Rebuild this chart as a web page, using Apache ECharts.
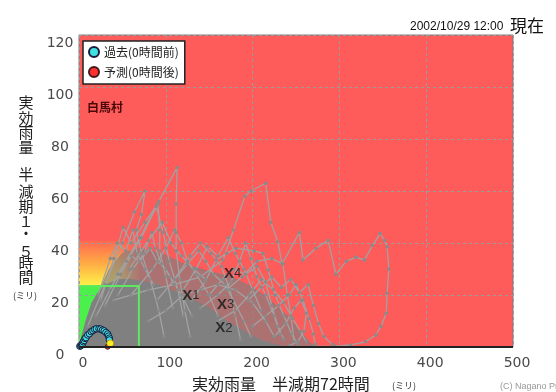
<!DOCTYPE html>
<html>
<head>
<meta charset="utf-8">
<script src="https://cdn.jsdelivr.net/npm/echarts@6/dist/echarts.min.js"></script>
<style>
  html, body { margin: 0; padding: 0; background: #fff; }
  #chart { width: 556px; height: 392px; }
</style>
</head>
<body>
<div id="chart"></div>
<script>
// zones (mm)
const greenZone = [[0, 0], [69, 23.5]];
const cautionZone = [[0, 23.5], [70, 41]];
const fadeZone = [[45, 23.5], [72, 41]];
const greenOutline = [[0, 23.5], [69, 23.5], [69, 0]];
const baseLine = [[0, 0], [500, 0]];

// cloud of past rainfall traces
const denseCloud = [[0,0],[8,10],[15,17],[22,21],[32,24],[45,26],[60,26],[75,25],[90,24],[105,22],[120,20],[135,17.5],[150,15],[165,11],[180,8],[195,5],[210,2.5],[225,1],[238,0]];
const sparseCloud = [[0,0],[20,19],[35,30],[50,36],[70,38],[95,36],[120,32],[150,29],[175,27],[200,23],[220,18],[240,12],[255,6],[265,2],[272,0]];

// individual past events (snake lines)
const eventA = [[40,18],[80,22],[110,24],[140,27],[166,33.5],[178,45],[191,58],[198,60],[215,63],[221,48],[229,40.5],[234,32],[254,44],[258,33.5],[273,38],[287,41],[296,28],[308,33],[319,34.5],[329,33.5],[338,39],[347,43.7],[352,41],[355,38.6],[357,30],[355,20.7],[354,13],[348,8],[342,4.6],[330,2],[313,0.8],[295,0.3],[270,0.2]];
const eventB = [[20,12],[45,28],[70,42],[92,56],[113,69],[112,55],[112,44],[112,37],[116,26],[122,14],[128,4]];
const eventC = [[10,8],[30,24],[50,40],[64,52],[76,60],[72,51],[66,45],[72,36],[82,26],[92,14],[98,4]];
const eventD = [[25,18],[40,34],[51,46],[60,40],[76,48],[91,55],[93,45],[93,37],[100,27],[108,15]];
const eventE = [[35,22],[55,33],[72,42],[89,54],[97,44],[104,33],[114,22],[120,12]];
const eventF = [[130,18],[145,25],[158,33.5],[170,36],[181,38],[202,37],[212,36],[218,29.6],[226,20],[236,12],[245,5],[252,1]];
const eventG = [[150,20],[165,26],[178,30],[192,28],[205,31],[215,25],[222,16],[229,8],[236,3]];
const eventH = [[225,4],[238,9],[248,15],[256,18],[262,13],[259,6],[252,2],[242,0.5]];
const eventI = [[170,22],[188,27],[205,33],[222,34],[235,32],[240,20],[244,12],[248,2]];
const eventJ = [[110,26],[128,35],[140,40],[152,36],[164,31],[174,22],[180,12],[186,3]];
const eventK = [[195,18],[210,23],[222,27],[233,23],[244,26],[254,21],[264,24],[270,16],[276,9],[282,4],[292,1]];
const eventL = [[22,20],[36,34],[44,40],[54,37],[62,45],[67,36],[76,30],[86,24]];
const eventM = [[58,30],[80,41],[96,48],[106,40],[118,35],[132,30],[146,26]];
const eventN = [[120,22],[135,30],[148,38.6],[160,35],[172,42],[180,36],[190,30],[200,22],[210,14]];
const eventO = [[60,20],[85,30],[100,38],[110,45],[118,40],[125,33],[135,28],[150,20],[160,12]];
const eventP = [[90,18],[110,26],[125,32],[138,37],[146,33],[155,28],[168,24],[178,18],[190,10],[198,4]];
const eventQ = [[140,15],[160,20],[175,25],[185,33],[192,40],[198,34],[205,27],[215,20],[225,12],[232,5]];
const eventR = [[160,10],[180,14],[196,20],[210,26],[224,22],[236,17],[246,11],[255,6],[262,2]];
const eventS = [[200,8],[215,12],[230,16],[242,20],[250,24],[258,18],[265,11],[270,5],[272,1]];
const eventT = [[80,10],[100,14],[120,20],[140,22],[160,24],[180,22],[200,17],[215,10],[225,4]];
const eventU = [[30,16],[48,28],[60,35],[70,33],[82,38],[90,33],[100,30],[110,24]];
const eventV = [[45,20],[62,30],[75,36],[84,44],[88,38],[95,32],[105,27],[118,20],[130,12]];
const events = [eventA, eventB, eventC, eventD, eventE, eventF, eventG, eventH, eventI, eventJ, eventK,
  eventL, eventM, eventN, eventO, eventP, eventQ, eventR, eventS, eventT, eventU, eventV];

// current event
const pastPoints = [[1,0.3],[2,0.5],[3,0.8],[4,1.2],[5,2],[6,2.5],[7,3.3],[8,3.6],[10,4.6],[12,5.1],[14,5.9],[16,6.3],[18,6.8],[20,7],[23,7],[25,6.9],[27,6.5],[29,6.2],[31,5.6],[33,5],[34,4.2],[35,3.4],[35,2.7]];
const nowPoint = [[36,1.4]];
const forecastPoints = [[33,0.1]];

// numbered markers
const markerPoints = [[129,19.7],[167,7.2],[169,16.4],[177,28.3]];
const markerNames = ['1', '2', '3', '4'];

const xTicks = { min: 0, max: 500, interval: 100 };
const yTicks = { min: 0, max: 120, interval: 20 };

const legendNames = ['過去(0時間前)', '予測(0時間後)'];
const yNameChars = [['実',102],['効',118],['雨',132],['量',147],['半',174],['減',191],['期',206],['１',221],['・',233],['５',251],['時',263],['間',277]];

const chart = echarts.init(document.getElementById('chart'));

const gridLine = { show: true, lineStyle: { color: '#9c9c9c', type: [3, 3], width: 1 } };
const cjk = '"Noto Sans CJK JP", sans-serif';

const snake = data => ({
  type: 'line',
  data,
  z: 4,
  symbol: 'circle',
  symbolSize: 3.5,
  showAllSymbol: true,
  silent: true,
  lineStyle: { color: '#a2a2a2', width: 1.3 },
  itemStyle: { color: '#8a8a8a' }
});

const txt = (text, x, y, font, fill, align) => ({
  type: 'text', x, y, silent: true,
  style: { text, font, fill, align: align || 'left', textAlign: align || 'left', verticalAlign: 'middle', textVerticalAlign: 'middle' }
});

const option = {
  animation: false,
  backgroundColor: '#fff',
  grid: {
    left: 79, right: 43, top: 35, bottom: 45,
    show: true, backgroundColor: '#fe5b5b', borderColor: '#7a7a7a', borderWidth: 1
  },
  legend: {
    data: legendNames,
    left: 83, top: 41,
    orient: 'vertical',
    backgroundColor: '#fff',
    borderColor: '#222',
    borderWidth: 1.5,
    padding: [5, 6, 6, 5],
    itemGap: 8,
    itemWidth: 10,
    itemHeight: 10,
    icon: 'circle',
    selectedMode: false,
    textStyle: { fontSize: 12, color: '#222', fontFamily: cjk }
  },
  xAxis: {
    type: 'value',
    ...xTicks,
    z: 2,
    axisLine: { show: false },
    axisTick: { show: false },
    splitLine: gridLine,
    axisLabel: { color: '#4a4a4a', fontSize: 14, fontFamily: 'DejaVu Sans', margin: 9, padding: [0, 0, 0, 8] }
  },
  yAxis: {
    type: 'value',
    ...yTicks,
    z: 2,
    axisLine: { show: false },
    axisTick: { show: false },
    splitLine: gridLine,
    axisLabel: { color: '#4a4a4a', fontSize: 14, fontFamily: 'DejaVu Sans', margin: 19, align: 'center', verticalAlign: 'top', lineHeight: 16 }
  },
  series: [
    {
      type: 'line', data: greenZone, z: 1, symbol: 'none', silent: true,
      lineStyle: { opacity: 0 },
      markArea: {
        silent: true,
        data: [
          [{ xAxis: greenZone[0][0], yAxis: greenZone[0][1], itemStyle: { color: '#4cf04c' } },
           { xAxis: greenZone[1][0], yAxis: greenZone[1][1] }],
          [{ xAxis: cautionZone[0][0], yAxis: cautionZone[0][1], itemStyle: {
              color: new echarts.graphic.LinearGradient(0, 0, 0, 1, [
                { offset: 0, color: '#ff6652' },
                { offset: 0.45, color: '#ffa445' },
                { offset: 1, color: '#fff24a' }
              ]) } },
           { xAxis: cautionZone[1][0], yAxis: cautionZone[1][1] }],
          [{ xAxis: fadeZone[0][0], yAxis: fadeZone[0][1], itemStyle: {
              color: new echarts.graphic.LinearGradient(0, 0, 1, 0, [
                { offset: 0, color: 'rgba(254,91,91,0)' },
                { offset: 1, color: 'rgba(254,91,91,1)' }
              ]) } },
           { xAxis: fadeZone[1][0], yAxis: fadeZone[1][1] }]
        ]
      }
    },
    {
      type: 'line', data: sparseCloud, z: 3, symbol: 'none', silent: true,
      lineStyle: { color: 'rgba(128,128,128,0.65)', width: 1 },
      areaStyle: { color: 'rgba(128,128,128,0.65)', opacity: 1 }
    },
    {
      type: 'line', data: denseCloud, z: 3, symbol: 'none', silent: true,
      lineStyle: { color: '#808080', width: 1 },
      areaStyle: { color: '#808080', opacity: 1 }
    },
    ...events.map(snake),
    {
      type: 'line', data: greenOutline, z: 5, symbol: 'none', silent: true,
      lineStyle: { color: '#5ee85e', width: 2 }
    },
    {
      type: 'line', data: baseLine, z: 8, symbol: 'none', silent: true,
      lineStyle: { color: '#222', width: 2 }
    },
    {
      name: legendNames[0],
      type: 'scatter', data: pastPoints, z: 6, symbolSize: 6.5,
      itemStyle: { color: '#3ee0e0', borderColor: '#1a1a40', borderWidth: 1, opacity: 1 }
    },
    {
      name: legendNames[1],
      type: 'scatter', data: forecastPoints, z: 6, symbolSize: 5,
      itemStyle: { color: '#ff3030', borderColor: '#401a1a', borderWidth: 1, opacity: 1 }
    },
    {
      type: 'scatter', data: nowPoint, z: 7, symbolSize: 7,
      itemStyle: { color: '#ffee22', borderColor: '#806000', borderWidth: 0.5, opacity: 1 }
    },
    {
      type: 'scatter', z: 9, symbolSize: 1, silent: true,
      data: markerPoints.map((p, i) => ({ value: p, name: markerNames[i] })),
      itemStyle: { color: 'rgba(0,0,0,0)' },
      label: {
        show: true, position: 'inside',
        formatter: p => '{x|X}{n|' + p.name + '}',
        rich: {
          x: { fontSize: 15, fontWeight: 'bold', color: '#151515', fontFamily: 'Liberation Sans' },
          n: { fontSize: 13, color: '#151515', fontFamily: 'Liberation Sans' }
        }
      }
    }
  ],
  graphic: [
    txt('2002/10/29 12:00', 410, 27, '12px "Liberation Sans"', '#111'),
    txt('現在', 510, 26, '17px ' + cjk, '#111'),
    txt('白馬村', 87, 107, 'bold 12px ' + cjk, '#4a0808'),
    txt('実効雨量　半減期72時間', 192, 384, '16px ' + cjk, '#222'),
    txt('(ミリ)', 392, 386, '9px ' + cjk, '#333'),
    txt('(ミリ)', 13, 296, '9px ' + cjk, '#333'),
    txt('(C) Nagano Pref.', 500, 387, '9px "Liberation Sans"', '#999'),
    ...yNameChars.map(c => txt(c[0], 26, c[1], '15px ' + cjk, '#222', 'center'))
  ]
};

chart.setOption(option);
</script>
</body>
</html>
